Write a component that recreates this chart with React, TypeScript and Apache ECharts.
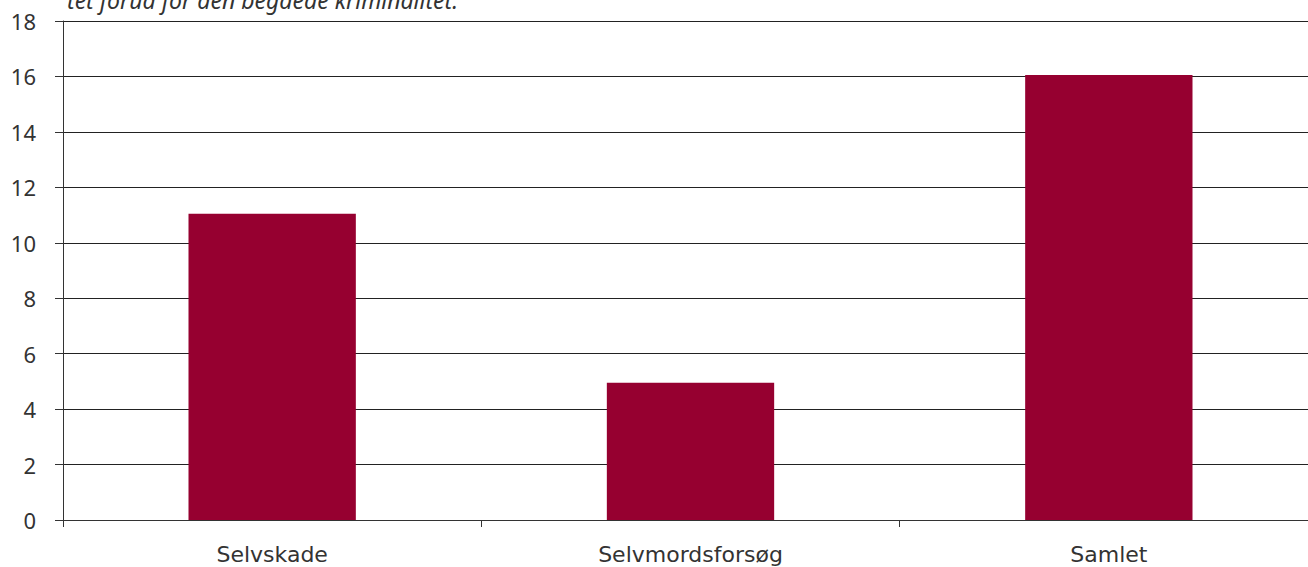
import React, { useEffect, useRef } from "react";
import * as echarts from "echarts";

const categories = ["Selvskade", "Selvmordsforsøg", "Samlet"];
const values = [11.05, 4.95, 16.05];
const yTicks = { min: 0, max: 18, interval: 2 };
const caption = "tet forud for den begåede kriminalitet.";

export default function App() {
  const ref = useRef<HTMLDivElement>(null);
  useEffect(() => {
    if (!ref.current) return;
    const chart = echarts.init(ref.current, null, { renderer: "svg" });
    chart.setOption({
      animation: false,
      textStyle: { fontFamily: "Noto Sans" },
      grid: { left: 63, right: 0, top: 21, bottom: 47, containLabel: false },
      graphic: [
        {
          type: "text",
          x: 67,
          y: 11,
          style: {
            text: caption,
            font: "italic 23px 'Noto Sans'",
            fill: "#333",
            verticalAlign: "bottom",
            lineHeight: 23,
          },
        },
      ],
      xAxis: {
        type: "category",
        data: categories,
        axisLine: { lineStyle: { color: "#333", width: 1 } },
        axisTick: { show: true, length: 7, lineStyle: { color: "#333" } },
        axisLabel: {
          color: "#333",
          fontSize: 22,
          fontFamily: "DejaVu Sans",
          margin: 23,
        },
        splitLine: { show: false },
      },
      yAxis: {
        type: "value",
        min: yTicks.min,
        max: yTicks.max,
        interval: yTicks.interval,
        axisLine: { show: true, lineStyle: { color: "#333", width: 1 } },
        axisTick: { show: true, length: 8, lineStyle: { color: "#333" } },
        axisLabel: { color: "#333", fontSize: 22, margin: 27 },
        splitLine: { show: true, lineStyle: { color: "#222", width: 1 } },
      },
      series: [
        {
          type: "bar",
          data: values,
          barWidth: "40%",
          itemStyle: { color: "#960030" },
        },
      ],
    });
    return () => chart.dispose();
  }, []);
  return (
    <div
      style={{
        position: "absolute",
        left: 0,
        top: 0,
        width: 1308,
        height: 567,
        overflow: "hidden",
      }}
    >
      <div ref={ref} style={{ width: 1318, height: 567 }} />
    </div>
  );
}
